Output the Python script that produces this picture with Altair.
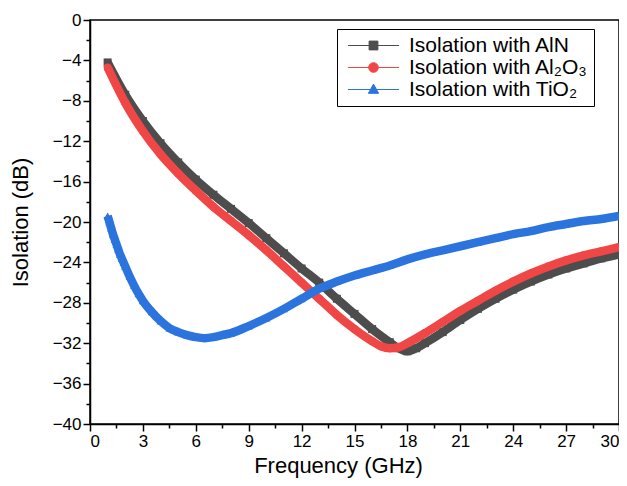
import altair as alt
import pandas as pd

# ---- data ----
freq_aln = [1, 2, 3, 4, 5, 6, 7, 8, 9, 10, 11, 12, 13, 14, 15, 16, 17, 17.5, 18, 18.5,
            19, 20, 21, 22, 23, 24, 25, 26, 27, 28, 29, 30]
iso_aln = [-4.2, -7.4, -10.0, -12.2, -14.1, -15.8, -17.3, -18.7, -20.1, -21.6, -23.1, -24.6,
           -26.0, -27.6, -29.1, -30.6, -31.9, -32.5, -32.8, -32.5,
           -32.0, -30.9, -29.7, -28.6, -27.6, -26.7, -25.9, -25.2, -24.6, -24.1, -23.6, -23.2]

freq_al2o3 = [1, 2, 3, 4, 5, 6, 7, 8, 9, 10, 11, 12, 13, 14, 15, 16, 16.5, 17, 17.5, 18,
              19, 20, 21, 22, 23, 24, 25, 26, 27, 28, 29, 30]
iso_al2o3 = [-4.7, -8.2, -11.0, -13.3, -15.2, -16.9, -18.5, -19.9, -21.3, -22.8, -24.4, -26.0,
             -27.6, -29.2, -30.6, -31.8, -32.3, -32.5, -32.4, -32.0,
             -31.0, -29.9, -28.8, -27.8, -26.8, -25.9, -25.1, -24.4, -23.8, -23.3, -22.9, -22.5]

freq_tio2 = [1.0, 1.1, 1.2, 1.3, 1.4, 1.5, 1.6, 1.7, 1.8, 1.9, 2.0, 2.25, 2.5, 2.75, 3.0,
             3.5, 4.0, 4.5, 5.0, 5.5, 6.0, 6.5, 7.0, 7.5, 8, 9, 10, 11, 12, 13, 14, 15,
             16, 17, 18, 19, 20, 21, 22, 23, 24, 25, 26, 27, 28, 29, 30]
iso_tio2 = [-19.4, -20.0, -20.6, -21.2, -21.7, -22.2, -22.7, -23.2, -23.6, -24.0, -24.4, -25.4,
            -26.3, -27.1, -27.8, -28.9, -29.8, -30.5, -30.9, -31.2, -31.4, -31.5, -31.4, -31.2,
            -31.0, -30.3, -29.5, -28.6, -27.6, -26.6, -25.9, -25.3, -24.8, -24.3, -23.7, -23.2,
            -22.8, -22.4, -22.0, -21.6, -21.2, -20.9, -20.5, -20.2, -19.9, -19.7, -19.4]

series_names = ["Isolation with AlN", "Isolation with Al\u2082O\u2083", "Isolation with TiO\u2082"]
series_colors = ["#4d4d4d", "#f04646", "#2c74dd"]
series_shapes = ["square", "circle", "triangle-up"]

x_ticks = [0, 3, 6, 9, 12, 15, 18, 21, 24, 27, 30]
x_minor = [1.5, 4.5, 7.5, 10.5, 13.5, 16.5, 19.5, 22.5, 25.5, 28.5]
y_ticks = [-40, -36, -32, -28, -24, -20, -16, -12, -8, -4, 0]
y_minor = [-38, -34, -30, -26, -22, -18, -14, -10, -6, -2]

# legend symbols: a short line with the marker in its middle (unit = sqrt(size)/2 px)
legend_paths = [
    "M-3.2,0L3.2,0M-0.55,-0.55L0.55,-0.55L0.55,0.55L-0.55,0.55Z",
    "M-3.2,0L3.2,0M-0.6,0A0.6,0.6 0 1,0 0.6,0A0.6,0.6 0 1,0 -0.6,0Z",
    "M-3.2,0L3.2,0M0,-0.68L0.64,0.48L-0.64,0.48Z",
]

FONT = "Liberation Sans"

frames = []
for name, fr, iso in [(series_names[0], freq_aln, iso_aln),
                      (series_names[1], freq_al2o3, iso_al2o3),
                      (series_names[2], freq_tio2, iso_tio2)]:
    frames.append(pd.DataFrame({"f": fr, "v": iso, "s": name}))
df = pd.concat(frames, ignore_index=True)

x_scale = alt.Scale(domain=[0, 30], nice=False, zero=False)
y_scale = alt.Scale(domain=[-40, 0], nice=False, zero=False)

x_axis = alt.Axis(values=x_ticks, title="Frequency (GHz)", orient="bottom",
                  titleX=248, titleAlign="center", titleFontWeight=400)
y_axis = alt.Axis(values=y_ticks, title="Isolation (dB)", orient="left",
                  titleFontWeight=400)

layers = []
first = True
for name, col, shp in zip(series_names, series_colors, series_shapes):
    base = alt.Chart(df).transform_filter(alt.datum.s == name)
    xe = alt.X("f:Q", scale=x_scale, axis=x_axis if first else None)
    ye = alt.Y("v:Q", scale=y_scale, axis=y_axis if first else None)
    first = False
    layers.append(base.mark_line(color=col, strokeWidth=8.5, interpolate="monotone", clip=True)
                  .encode(x=xe, y=ye, order="f:Q"))
    xp = alt.X("f:Q", scale=x_scale, axis=None)
    yp = alt.Y("v:Q", scale=y_scale, axis=None)
    layers.append(base.mark_point(shape=shp, filled=True, color=col, size=64, opacity=1, clip=True)
                  .encode(x=xp, y=yp))

# minor ticks
minor = alt.Chart(df).mark_point(opacity=0).encode(
    x=alt.X("f:Q", scale=x_scale,
            axis=alt.Axis(values=x_minor, labels=False, tickSize=4, domain=False,
                          orient="bottom", title=None)),
    y=alt.Y("v:Q", scale=y_scale,
            axis=alt.Axis(values=y_minor, labels=False, tickSize=4, domain=False,
                          orient="left", title=None)),
)

leg = alt.Legend(title=None, orient="none", legendX=247, legendY=9,
                 strokeColor="black", fillColor="white", padding=6,
                 symbolSize=256, symbolStrokeWidth=1, symbolOffset=20,
                 labelFont=FONT, labelFontSize=21, labelColor="black", labelOffset=25,
                 labelLimit=400, rowPadding=0, symbolOpacity=1)
legend_layer = alt.Chart(df).transform_filter("datum.f < -100").mark_point(
    filled=True, strokeWidth=1, opacity=1).encode(
    fill=alt.Fill("s:N", scale=alt.Scale(domain=series_names, range=series_colors), legend=leg),
    stroke=alt.Stroke("s:N", scale=alt.Scale(domain=series_names, range=series_colors), legend=leg),
    shape=alt.Shape("s:N", scale=alt.Scale(domain=series_names, range=legend_paths), legend=leg),
)

chart = alt.layer(*layers, minor, legend_layer).resolve_axis(
    x="independent", y="independent"
).properties(
    width=529, height=404,
    autosize=alt.AutoSizeParams(type="none"),
    padding={"left": 82, "top": 12, "right": 0, "bottom": 54},
).configure_view(
    stroke="black", strokeWidth=1.5
).configure_axis(
    grid=False, domainColor="black", domainWidth=1.5, tickColor="black", tickWidth=1.5,
    tickSize=7, labelFont=FONT, labelFontSize=17, labelColor="black", labelPadding=2,
    titleFont=FONT, titleFontSize=22, titleFontWeight="normal", titleColor="black",
    titlePadding=6
).configure_axisLeft(titlePadding=20)

chart.save("out.html", embed_options={"renderer": "svg", "actions": False})
